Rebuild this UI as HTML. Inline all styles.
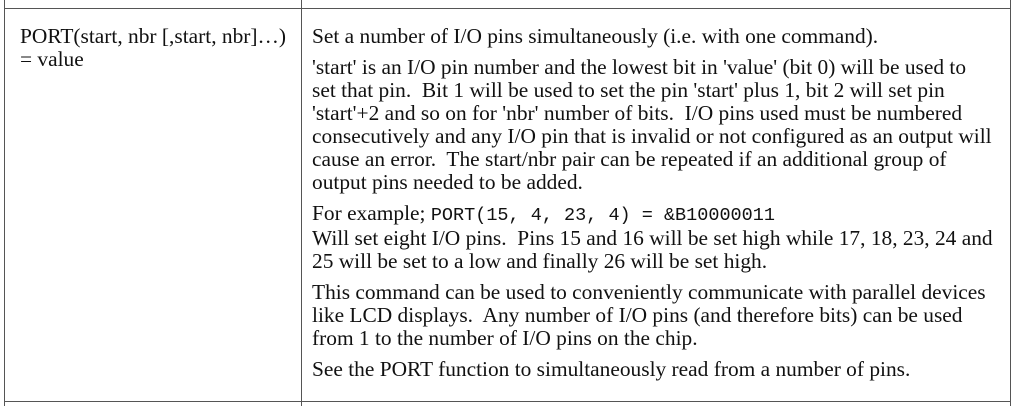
<!DOCTYPE html>
<html><head><meta charset="utf-8"><style>
html,body{margin:0;padding:0;background:#fff;}
body{width:1024px;height:406px;position:relative;overflow:hidden;font-family:"Liberation Serif",serif;font-size:21.4px;color:#111;}
.v{position:absolute;top:0;width:1px;height:406px;background:#555;}
.h{position:absolute;left:4px;width:1007px;height:1px;background:#555;}
.cell{position:absolute;white-space:nowrap;line-height:23px;}
.cell p{margin:0 0 8px 0;}
.m{font-family:"Liberation Mono",monospace;font-size:18.5px;}
</style></head><body>
<div class="v" style="left:4px"></div>
<div class="v" style="left:301px"></div>
<div class="v" style="left:1010px"></div>
<div class="h" style="top:8px"></div>
<div class="h" style="top:401px"></div>
<div class="cell" style="left:20px;top:25px;">PORT(start, nbr [,start, nbr]…)<br>= value</div>
<div class="cell" style="left:312px;top:25px;">
<p>Set a number of I/O pins simultaneously (i.e. with one command).</p>
<p>'start' is an I/O pin number and the lowest bit in 'value' (bit 0) will be used to<br>set that pin.&nbsp; Bit 1 will be used to set the pin 'start' plus 1, bit 2 will set pin<br>'start'+2 and so on for 'nbr' number of bits.&nbsp; I/O pins used must be numbered<br>consecutively and any I/O pin that is invalid or not configured as an output will<br>cause an error.&nbsp; The start/nbr pair can be repeated if an additional group of<br>output pins needed to be added.</p>
<p>For example; <span class="m">PORT(15, 4, 23, 4) = &amp;B10000011</span><br>Will set eight I/O pins.&nbsp; Pins 15 and 16 will be set high while 17, 18, 23, 24 and<br>25 will be set to a low and finally 26 will be set high.</p>
<p>This command can be used to conveniently communicate with parallel devices<br>like LCD displays.&nbsp; Any number of I/O pins (and therefore bits) can be used<br>from 1 to the number of I/O pins on the chip.</p>
<p>See the PORT function to simultaneously read from a number of pins.</p>
</div>
</body></html>
